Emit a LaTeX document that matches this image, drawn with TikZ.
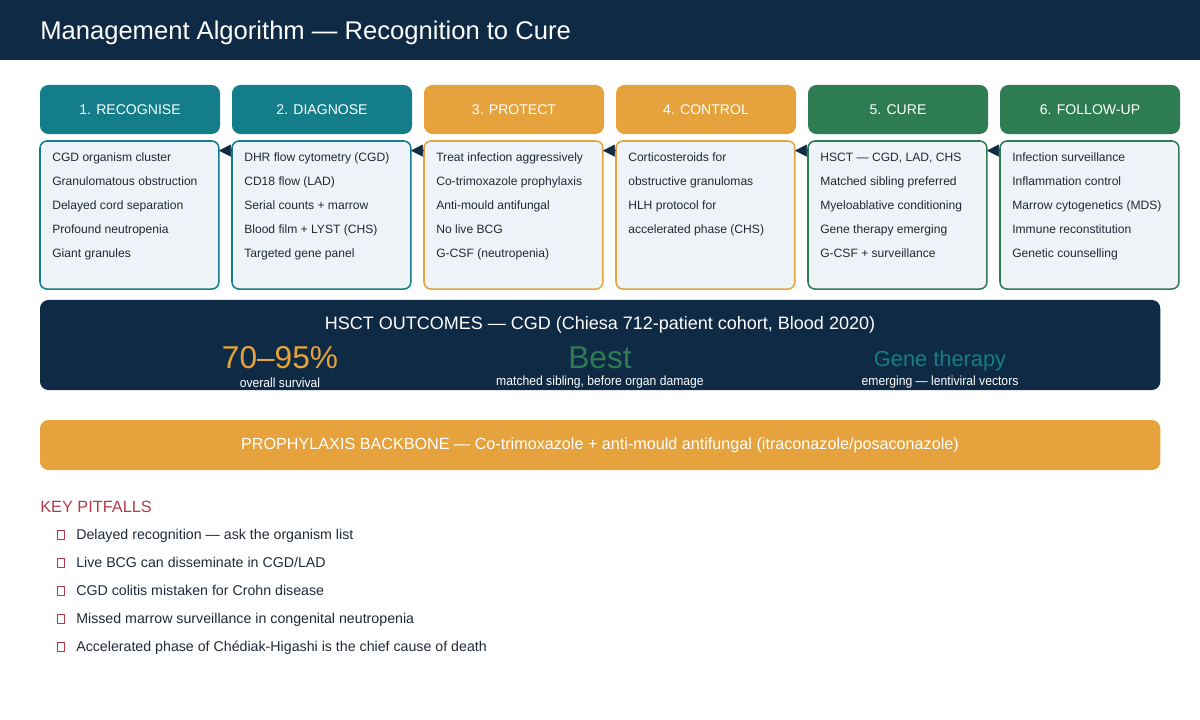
\documentclass[tikz,border=0pt]{standalone}
\usepackage{fontspec}
\setmainfont{Liberation Sans}
\newfontfamily\narrowsans{Liberation Sans}[FakeStretch=0.92]
\usetikzlibrary{arrows.meta,positioning,calc}
\definecolor{navy}{HTML}{0F2A44}
\definecolor{ink}{HTML}{1F2A37}
\definecolor{tealc}{HTML}{137E8A}
\definecolor{orangec}{HTML}{E6A23C}
\definecolor{greenc}{HTML}{2E7C52}
\definecolor{paper}{HTML}{EEF3F8}
\definecolor{pitred}{HTML}{B23A48}
\newcommand{\fs}[1]{\fontsize{#1}{#1}\selectfont}

\begin{document}
\begin{tikzpicture}[
  x=0.025cm, y=-0.025cm, >=Stealth, line join=round,
  hdr/.style={rounded corners=6pt, minimum width=4.5cm, minimum height=1.225cm,
              anchor=north west, text=white, font=\fs{10}, inner sep=0pt, outer sep=0pt},
  body/.style={draw=#1, fill=paper, line width=1.1pt, rounded corners=5pt,
               minimum width=4.47cm, minimum height=3.7cm, anchor=north west,
               inner sep=0pt, outer sep=0pt},
  item/.style={anchor=base west, text=ink, font=\fs{8.6}, inner sep=0pt},
  panel/.style={rounded corners=6pt, minimum width=28cm, anchor=north west,
                inner sep=0pt, outer sep=0pt},
  big/.style={font=\fs{22.5}, inner sep=0pt, text depth=0pt},
  sub/.style={text=white, font=\narrowsans\fs{9.4}, inner sep=0pt, text height=1.4ex},
  pbul/.style={draw=pitred, line width=0.5pt, minimum width=0.17cm,
               minimum height=0.23cm, inner sep=0pt},
  pitem/.style={anchor=base west, text=ink, font=\fs{10.1}, inner sep=0pt},
  flow/.style={-{Triangle[length=3mm,width=3mm]}, navy, line width=0.4pt}]

\useasboundingbox (0,0) rectangle (1200,720);

% ================================================ title bar
\fill[navy] (0,0) rectangle (1200,60);
\node[anchor=west, text=white, font=\fs{18.2}, inner sep=0pt] (title) at (40,33)
  {Management Algorithm — Recognition to Cure};

% ================================================ the six stages
\foreach \n/\x/\c/\t in {1/40/tealc/1. RECOGNISE, 2/232/tealc/2. DIAGNOSE,
                          3/424/orangec/3. PROTECT, 4/616/orangec/4. CONTROL,
                          5/808/greenc/5. CURE, 6/1000/greenc/6. FOLLOW-UP} {
  \node[hdr, fill=\c] (h\n) at (\x,85) {\t};
  \node[body=\c] (b\n) at (\x,141) {};
}

\foreach \t [count=\i from 0] in {CGD organism cluster, Granulomatous obstruction,
    Delayed cord separation, Profound neutropenia, Giant granules}
  \node[item] (b1-\i) at (52,{162+24*\i}) {\t};
\foreach \t [count=\i from 0] in {DHR flow cytometry (CGD), CD18 flow (LAD),
    Serial counts + marrow, Blood film + LYST (CHS), Targeted gene panel}
  \node[item] (b2-\i) at (244,{162+24*\i}) {\t};
\foreach \t [count=\i from 0] in {Treat infection aggressively, Co-trimoxazole prophylaxis,
    Anti-mould antifungal, No live BCG, G-CSF (neutropenia)}
  \node[item] (b3-\i) at (436,{162+24*\i}) {\t};
\foreach \t [count=\i from 0] in {Corticosteroids for, obstructive granulomas,
    HLH protocol for, accelerated phase (CHS)}
  \node[item] (b4-\i) at (628,{162+24*\i}) {\t};
\foreach \t [count=\i from 0] in {{HSCT — CGD, LAD, CHS}, Matched sibling preferred,
    Myeloablative conditioning, Gene therapy emerging, G-CSF + surveillance}
  \node[item] (b5-\i) at (820,{162+24*\i}) {\t};
\foreach \t [count=\i from 0] in {Infection surveillance, Inflammation control,
    Marrow cytogenetics (MDS), Immune reconstitution, Genetic counselling}
  \node[item] (b6-\i) at (1012,{162+24*\i}) {\t};

\foreach \i/\j in {2/1, 3/2, 4/3, 5/4, 6/5}
  \draw[flow] ([yshift=-0.24cm]b\i.north west) -- ([yshift=-0.24cm]b\j.north east);

% ================================================ HSCT outcomes
\node[panel, fill=navy, minimum height=2.25cm] (outc) at (40,300) {};
\node[text=white, font=\fs{12.8}, inner sep=0pt] (outt) at (600,325)
  {HSCT OUTCOMES — CGD (Chiesa 712-patient cohort, Blood 2020)};
\node[big, text=orangec, anchor=base] (surv) at (280,369) {70–95\%};
\node[sub] (survl) at (280,382) {overall survival};
\node[big, text=greenc, anchor=base] (best) at (600,369) {Best};
\node[sub] (bestl) at (600,382) {matched sibling, before organ damage};
\node[big, text=tealc, font=\fs{15.5}, anchor=base] (gene) at (940,367) {Gene therapy};
\node[sub] (genel) at (940,382) {emerging — lentiviral vectors};

% ================================================ prophylaxis
\node[panel, fill=orangec, minimum height=1.25cm] (prox) at (40,420) {};
\node[text=white, font=\fs{11.5}, inner sep=0pt] (proxt) at (600,445)
  {PROPHYLAXIS BACKBONE — Co-trimoxazole + anti-mould antifungal (itraconazole/posaconazole)};

% ================================================ pitfalls
\node[anchor=base west, text=pitred, font=\fs{11.6}, inner sep=0pt] (pit) at (40,512) {KEY PITFALLS};
\foreach \t [count=\i from 0] in {Delayed recognition — ask the organism list,
    Live BCG can disseminate in CGD/LAD, CGD colitis mistaken for Crohn disease,
    Missed marrow surveillance in congenital neutropenia,
    Accelerated phase of Chédiak-Higashi is the chief cause of death} {
  \node[pbul] (p\i) at (60.5,{534.5+28*\i}) {};
  \node[pitem] (pt\i) at (76,{539+28*\i}) {\t};
}

\end{tikzpicture}
\end{document}
